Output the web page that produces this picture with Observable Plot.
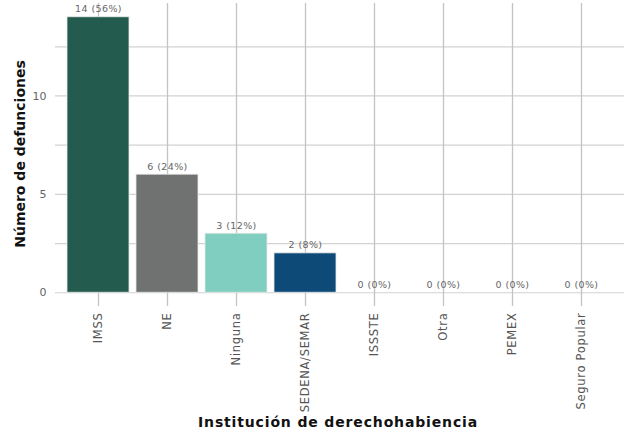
<!DOCTYPE html>
<html><head><meta charset="utf-8">
<script src="https://cdn.jsdelivr.net/npm/d3@7"></script>
<script src="https://cdn.jsdelivr.net/npm/@observablehq/plot@0.6"></script>
<style>
body{margin:0;background:#fff;}
#chart svg{display:block;}
g[aria-label="x-axis tick label"] text{letter-spacing:0.7px;}
g[aria-label="text"] text{letter-spacing:0.4px;}
</style>
</head><body><div id="chart"></div>
<script>
const categories = ["IMSS","NE","Ninguna","SEDENA/SEMAR","ISSSTE","Otra","PEMEX","Seguro Popular"];
const values = [14, 6, 3, 2, 0, 0, 0, 0];
const percents = [56, 24, 12, 8, 0, 0, 0, 0];
const colors = ["#235B4E","#6F7271","#7FCEC0","#0D4A78","#ffffff","#ffffff","#ffffff","#ffffff"];
const yTicks = [0, 5, 10];
const yGrid = [0, 2.5, 5, 7.5, 10, 12.5];

const data = categories.map((c,i)=>({cat:c, n:values[i], pct:percents[i], color:colors[i], label:`${values[i]} (${percents[i]}%)`}));

const font = "DejaVu Sans";
const plot = Plot.plot({
  width: 629, height: 433,
  marginLeft: 55, marginRight: 5, marginTop: 3, marginBottom: 127,
  style: {fontFamily: font, background: "#fff"},
  x: {domain: categories, paddingInner: 0.1, paddingOuter: 0.15, label: null},
  y: {domain: [-0.7, 14.7], label: null},
  marks: [
    Plot.ruleY(yGrid, {stroke: "#d2d2d2", strokeWidth: 1.2}),
    Plot.ruleX(categories, {x: d=>d, stroke: "#c4c4c4", strokeWidth: 1.3}),
    Plot.barY(data, {x: "cat", y: "n", fill: "color", stroke: "#e8e8e8", strokeWidth: 0.8}),
    Plot.text(data, {x: "cat", y: "n", text: "label", dy: -8, fill: "#666", fontSize: 9.5}),
    Plot.axisY({ticks: yTicks, tickSize: 0, tickPadding: 9, fontSize: 11, color: "#666", label: null}),
    Plot.axisX({tickSize: 0, tickPadding: 6, tickRotate: -90, fontSize: 11.5, color: "#555", label: null})
  ]
});
const svg = d3.select(plot);
svg.append("text").attr("x", 338).attr("y", 427).attr("text-anchor","middle")
  .attr("font-family", font).attr("font-weight","bold").attr("font-size", 14).attr("fill","#111")
  .attr("letter-spacing", "0.85px")
  .text("Institución de derechohabiencia");
svg.append("text").attr("transform","translate(25,154) rotate(-90)").attr("text-anchor","middle")
  .attr("font-family", font).attr("font-weight","bold").attr("font-size", 14).attr("fill","#111")
  .text("Número de defunciones");
document.getElementById("chart").appendChild(plot);
</script>
</body></html>
